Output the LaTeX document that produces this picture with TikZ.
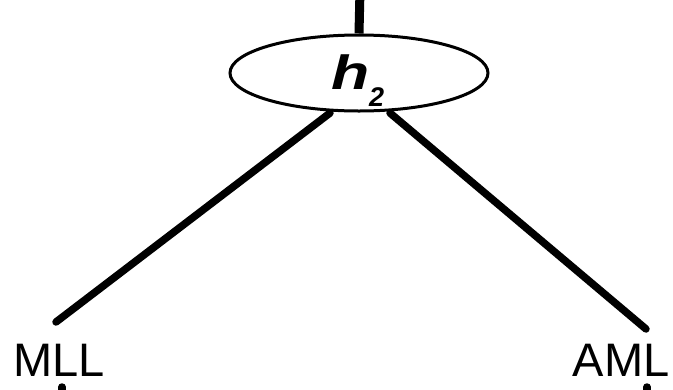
\documentclass[tikz,border=0pt]{standalone}
\usepackage{fontspec}
\setmainfont{Liberation Sans}
\usetikzlibrary{shapes.geometric}
\newfontfamily\hfont{Liberation Sans}
\begin{document}
\begin{tikzpicture}[x=1pt,y=-1pt,
  edge/.style={line width=7.5pt,line cap=round},
  oval/.style={ellipse,draw,line width=3pt,minimum width=258pt,minimum height=76pt,inner sep=0pt},
  lab/.style={font=\fontsize{47}{56}\selectfont,anchor=base,inner sep=0pt}]
\useasboundingbox (0,0) rectangle (673,389);
\node[oval] (h) at (359,73) {};
\node[anchor=base west,inner sep=0pt,font=\hfont\fontsize{48}{54}\selectfont\bfseries\itshape] (hl) at (331,89)
  {\scalebox{1.3}[1.0]{h}};
\node[anchor=base west,inner sep=0pt,font=\hfont\fontsize{27}{32}\selectfont\bfseries\itshape] (sub) at (369,106) {2};
\node[lab] (mll) at (59,376) {MLL};
\node[lab] (aml) at (621,376) {AML};
\coordinate (top) at (360,-10);
\coordinate (l1) at (330,113);
\coordinate (l2) at (56,322);
\coordinate (r1) at (390,113);
\coordinate (r2) at (646,329);
\coordinate (mb) at (62,387);
\coordinate (ab) at (647,387);
\draw[line width=9pt] (top) -- (h.north);
\draw[edge] (l1) -- (l2);
\draw[edge] (r1) -- (r2);
\draw[edge] (mb) -- ++(0,20);
\draw[edge] (ab) -- ++(0,20);
\end{tikzpicture}
\end{document}
